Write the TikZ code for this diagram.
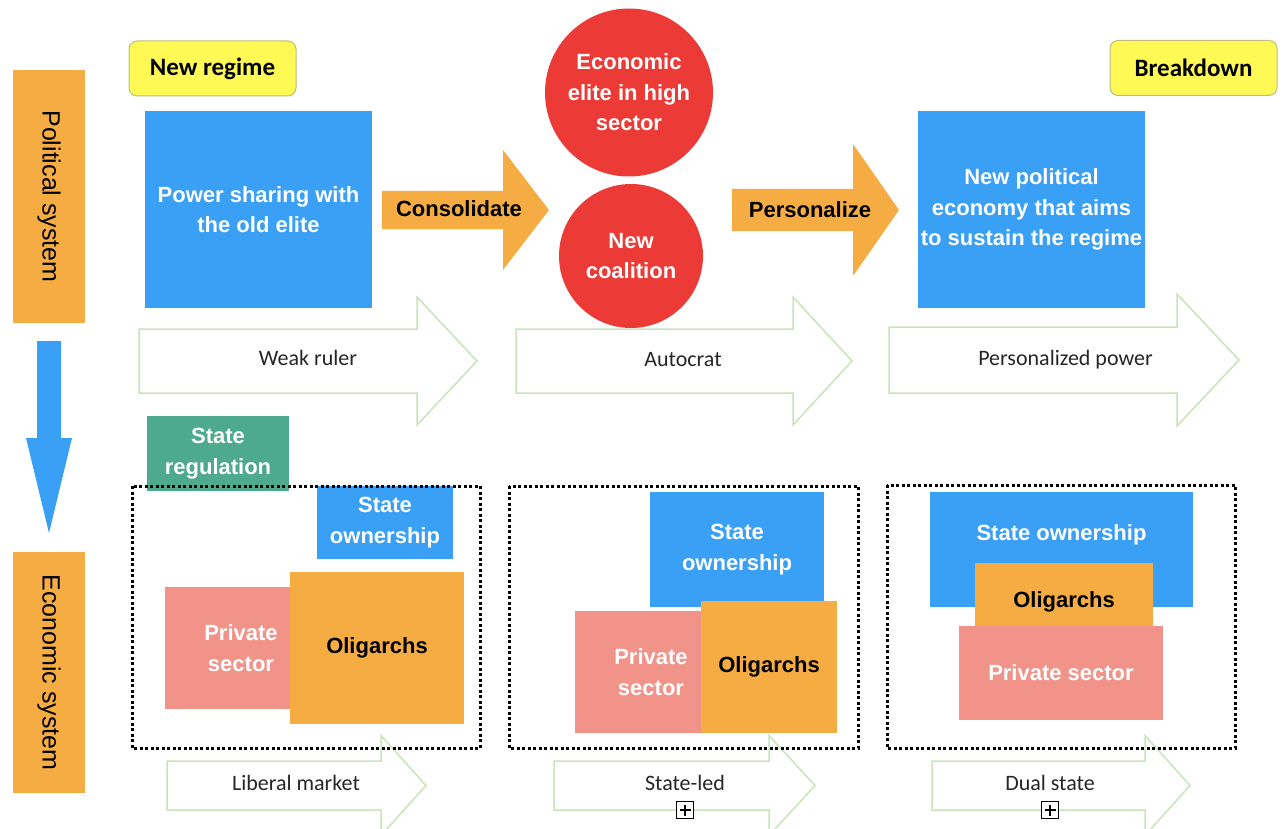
\documentclass[tikz,border=0pt]{standalone}
\usepackage{fontspec}
\setmainfont{Liberation Sans}
\newfontfamily\carlito{Carlito}
\usetikzlibrary{positioning}
\definecolor{ppOrange}{HTML}{F5AD43}
\definecolor{ppBlue}{HTML}{3AA0F5}
\definecolor{ppRed}{HTML}{EC3A36}
\definecolor{ppGreen}{HTML}{4EAA8C}
\definecolor{ppPink}{HTML}{F2938A}
\definecolor{ppYellow}{HTML}{FFF955}
\definecolor{ppYellowEdge}{HTML}{BDBD80}
\definecolor{ppLine}{HTML}{C8E4B8}
\tikzset{
  sysbox/.style={fill=ppOrange, rotate=-90, minimum height=72pt, inner sep=0pt,
    font=\fontsize{25}{30}\selectfont},
  tagbox/.style={fill=ppYellow, draw=ppYellowEdge, line width=1pt, rounded corners=8pt,
    minimum width=167pt, minimum height=55pt, font=\carlito\bfseries\fontsize{25}{30}\selectfont},
  block/.style={inner sep=0pt, align=center, text=white,
    font=\bfseries\fontsize{22}{30.5}\selectfont},
  darkblock/.style={block, text=black},
  phase/.style={circle, fill=ppRed, block},
  movertext/.style={font=\bfseries\fontsize{22}{26}\selectfont},
  stagetext/.style={font=\carlito\fontsize{22}{26}\selectfont, text=black!85},
  stagearrow/.style={fill=white, draw=ppLine, line width=1.5pt},
  moverarrow/.style={fill=ppOrange},
  frame/.style={draw, line width=3pt, dash pattern=on 3pt off 2.5pt},
  plusbox/.style={draw, fill=white, line width=1.3pt, minimum size=17pt, inner sep=0pt,
    path picture={\draw[line width=1.3pt]
      ([yshift=-3pt]path picture bounding box.north) -- ([yshift=3pt]path picture bounding box.south)
      ([xshift=3pt]path picture bounding box.west) -- ([xshift=-3pt]path picture bounding box.east);}},
}
% #1 style, #2 tail x, #3 head base x, #4 tip x, #5 mid y, #6 half shaft, #7 half head
\newcommand{\fatarrow}[7]{%
  \path[#1] (#2,#5-#6) -- (#3,#5-#6) -- (#3,#5-#7) -- (#4,#5)
    -- (#3,#5+#7) -- (#3,#5+#6) -- (#2,#5+#6) -- cycle;}

\begin{document}
\begin{tikzpicture}[x=1pt, y=-1pt]
  \useasboundingbox (0,0) rectangle (1282,829);
  \clip (0,0) rectangle (1282,829);

  % stage arrows
  \fatarrow{stagearrow}{139}{417}{477}{361}{32}{64}
  \fatarrow{stagearrow}{516}{793}{852}{361}{32}{64}
  \fatarrow{stagearrow}{889}{1177}{1239}{360}{33}{66}
  \fatarrow{stagearrow}{167}{381}{426}{785.5}{24.5}{50}
  \fatarrow{stagearrow}{554}{769}{815}{785.5}{24.5}{50}
  \fatarrow{stagearrow}{932}{1145}{1190}{785.5}{24.5}{50}

  % left axis
  \node[sysbox, minimum width=253pt] (polsys) at (49,196.5) {Political system};
  \node[sysbox, minimum width=241pt] (ecosys) at (49,672.5) {Economic system};
  \path[fill=ppBlue] (37,341) -- (61,341) -- (61,438) -- (72,438) -- (49,533)
    -- (26,438) -- (37,438) -- cycle;

  % political row
  \node[tagbox] (newreg) at (212.5,68.5) {New regime};
  \node[tagbox] (brkdwn) at (1193.5,68) {Breakdown};
  \node[block, fill=ppBlue, minimum width=227pt, minimum height=197pt]
    (share) at (258.5,209.5) {Power sharing with\\the old elite};
  \node[block, fill=ppBlue, minimum width=227pt, minimum height=197pt]
    (newpe) at (1031.5,209.5) {New political\\economy that aims\\to sustain the regime};
  \fatarrow{moverarrow}{382}{503}{549}{210}{19}{60}
  \fatarrow{moverarrow}{732}{853}{899}{210}{21}{66}
  \node[movertext] (consol) at (459,209) {Consolidate};
  \node[movertext] (person) at (810,210) {Personalize};
  \node[phase, minimum size=168pt] (elite) at (629,92.5) {Economic\\elite in high\\sector};
  \node[phase, minimum size=144pt] (coal) at (631,256) {New\\coalition};

  % liberal market
  \node[block, fill=ppGreen, minimum width=142pt, minimum height=75pt]
    (streg) at (218,453.5) {State\\regulation};
  \node[block, fill=ppBlue, minimum width=136pt, minimum height=73pt]
    (sown1) at (385,522.5) {State\\ownership};
  \node[block, fill=ppPink, minimum width=152pt, minimum height=122pt]
    (priv1) at (241,648) {Private\\sector};
  \node[darkblock, fill=ppOrange, minimum width=174pt, minimum height=152pt]
    (olig1) at (377,648) {Oligarchs};

  % state-led
  \node[block, fill=ppBlue, minimum width=174pt, minimum height=115pt]
    (sown2) at (737,549.5) {State\\ownership};
  \node[block, fill=ppPink, minimum width=152pt, minimum height=122pt]
    (priv2) at (651,672) {Private\\sector};
  \node[darkblock, fill=ppOrange, minimum width=136pt, minimum height=132pt]
    (olig2) at (769,667) {Oligarchs};

  % dual state
  \node[fill=ppBlue, minimum width=263pt, minimum height=115pt, inner sep=0pt]
    (sown3) at (1061.5,549.5) {};
  \node[block] (sown3txt) at (1061.5,535) {State ownership};
  \node[darkblock, fill=ppOrange, minimum width=178pt, minimum height=78pt]
    (olig3) at (1064,602) {Oligarchs};
  \node[block, fill=ppPink, minimum width=204pt, minimum height=94pt]
    (priv3) at (1061,673) {Private sector};

  % frames
  \draw[frame] (132,486) rectangle (480,748);
  \draw[frame] (509,486) rectangle (858,748);
  \draw[frame] (887,485) rectangle (1235,748);

  % stage labels
  \node[stagetext] (weak) at (308,358) {Weak ruler};
  \node[stagetext] (auto) at (683,360) {Autocrat};
  \node[stagetext] (persp) at (1065.5,360) {Personalized power};
  \node[stagetext] (libm) at (296,783) {Liberal market};
  \node[stagetext] (stled) at (685,783) {State-led};
  \node[stagetext] (duals) at (1050,783) {Dual state};
  \node[plusbox] (stledplus) at (685,810) {};
  \node[plusbox] (dualsplus) at (1050,810) {};
\end{tikzpicture}
\end{document}
